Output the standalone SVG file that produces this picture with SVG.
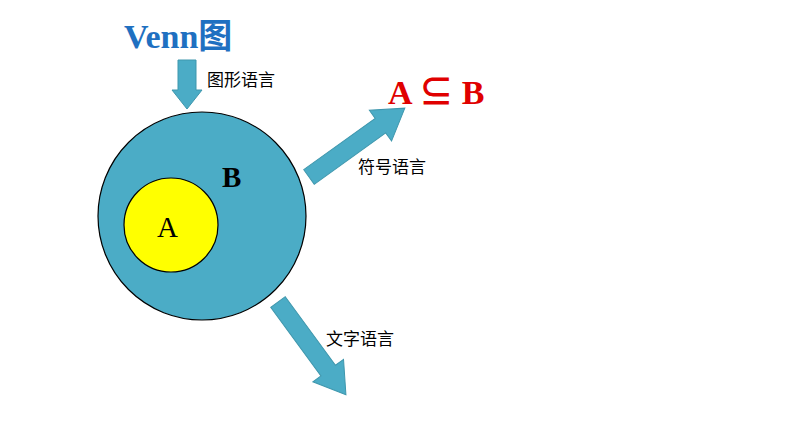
<svg xmlns="http://www.w3.org/2000/svg" width="794" height="447" viewBox="0 0 794 447">
<style>
.ar{fill:#4bacc6;stroke:#3f97ad;stroke-width:1}
.cn{font-family:"Liberation Sans","Noto Sans CJK SC",sans-serif;font-size:17px;fill:#000}
.se{font-family:"Liberation Serif","Noto Sans CJK SC",serif}
</style>
<rect width="794" height="447" fill="#fff"/>
<g id="title"><text x="124" y="48" class="se" font-size="34" font-weight="bold" fill="#1f70c1">Venn图</text></g>
<g id="setB"><circle cx="202" cy="216" r="104" fill="#4bacc6" stroke="#000" stroke-width="1.2"/>
<text x="222" y="187" class="se" font-size="29" font-weight="bold">B</text></g>
<g id="setA"><circle cx="171" cy="225" r="47" fill="#ffff00" stroke="#000" stroke-width="1.2"/>
<text x="157" y="237" class="se" font-size="29">A</text></g>
<g id="formula"><text x="388" y="104" class="se" font-size="34" font-weight="bold" fill="#e00000">A ⊆ B</text></g>
<g id="connectors">
<polygon class="ar" points="178,60 196,60 196,90 202,90 187,109 172,90 178,90"/>
<polygon class="ar" transform="translate(309,177) rotate(-35.7)" points="0,-9 88,-9 88,-19 118,0 88,19 88,9 0,9"/>
<polygon class="ar" transform="translate(278,302) rotate(53.8)" points="0,-9 85,-9 85,-19 115,0 85,19 85,9 0,9"/>
</g>
<g id="labels">
<text x="207" y="86" class="cn">图形语言</text>
<text x="358" y="173" class="cn">符号语言</text>
<text x="326" y="345" class="cn">文字语言</text>
</g>
</svg>
